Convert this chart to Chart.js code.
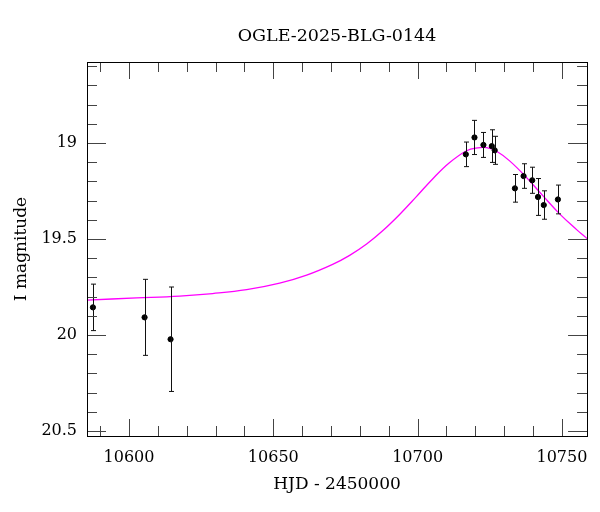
<!DOCTYPE html>
<html>
<head>
<meta charset="utf-8">
<script src="https://cdn.jsdelivr.net/npm/chart.js@4.4.1/dist/chart.umd.min.js"></script>
<style>
  html, body { margin: 0; padding: 0; background: #fff; }
  #wrap { width: 600px; height: 512px; }
</style>
</head>
<body>
<div id="wrap"><canvas id="lc"></canvas></div>
<script>
// OGLE photometry (HJD - 2450000, I mag, error)
const obsHJD = [10587.5, 10605.4, 10614.4, 10716.7, 10719.7, 10722.8, 10725.7, 10726.7,
                10733.7, 10736.7, 10739.7, 10741.7, 10743.7, 10748.6];
const obsMag = [19.856, 19.908, 20.022, 19.059, 18.971, 19.010, 19.016, 19.038,
                19.236, 19.172, 19.194, 19.281, 19.323, 19.294];
const obsErr = [0.121, 0.198, 0.272, 0.064, 0.089, 0.065, 0.085, 0.073,
                0.072, 0.064, 0.068, 0.096, 0.074, 0.075];

// model light curve
const modelHJD = [10585.35, 10602.67, 10617.56, 10628.99, 10640.77, 10652.20, 10661.55, 10670.56,
                  10676.45, 10682.33, 10687.88, 10693.76, 10699.65, 10705.19, 10710.90, 10716.97,
                  10720.78, 10723.90, 10727.36, 10731.87, 10737.75, 10743.30, 10749.19,
                  10755.08, 10758.89];
const modelMag = [19.818, 19.807, 19.797, 19.784, 19.764, 19.730, 19.688, 19.632,
                  19.585, 19.526, 19.457, 19.372, 19.278, 19.187, 19.104, 19.040,
                  19.025, 19.024, 19.043, 19.093, 19.180, 19.273, 19.369,
                  19.451, 19.500];

const xTicks = [10600, 10650, 10700, 10750];
const yTicks = [19, 19.5, 20, 20.5];
const xRange = [10585.45, 10758.7];
const yRange = [18.578, 20.526];

const FONT = '"DejaVu Serif", "Liberation Serif", serif';

// error bars drawn through the scales
const errorBars = {
    id: 'errorBars',
    afterDatasetsDraw(chart) {
        const ctx = chart.ctx;
        const x = chart.scales.x, y = chart.scales.y;
        ctx.save();
        ctx.strokeStyle = '#111';
        ctx.lineWidth = 1;
        obsHJD.forEach((t, i) => {
            const px = Math.round(x.getPixelForValue(t)) + 0.5;
            const top = y.getPixelForValue(obsMag[i] - obsErr[i]);
            const bot = y.getPixelForValue(obsMag[i] + obsErr[i]);
            ctx.beginPath();
            ctx.moveTo(px, top); ctx.lineTo(px, bot);
            ctx.moveTo(px - 2.5, top); ctx.lineTo(px + 2.5, top);
            ctx.moveTo(px - 2.5, bot); ctx.lineTo(px + 2.5, bot);
            ctx.stroke();
        });
        ctx.restore();
    }
};

// frame plus inward ticks on all four sides
const frameTicks = {
    id: 'frameTicks',
    afterDraw(chart) {
        const ctx = chart.ctx;
        const a = chart.chartArea;
        const x = chart.scales.x, y = chart.scales.y;
        ctx.save();
        ctx.strokeStyle = '#444';
        ctx.lineWidth = 1;
        ctx.beginPath();
        for (let v = 10590; v <= 10758; v += 10) {
            const px = Math.round(x.getPixelForValue(v)) + 0.5;
            const len = (v % 50 === 0) ? 17 : 10;
            ctx.moveTo(px, a.bottom); ctx.lineTo(px, a.bottom - len);
            ctx.moveTo(px, a.top); ctx.lineTo(px, a.top + len);
        }
        for (let k = 186; k <= 205; k++) {
            const v = k / 10;
            const py = Math.round(y.getPixelForValue(v)) + 0.5;
            const len = (k % 5 === 0) ? 19 : 10;
            ctx.moveTo(a.left, py); ctx.lineTo(a.left + len, py);
            ctx.moveTo(a.right, py); ctx.lineTo(a.right - len, py);
        }
        ctx.stroke();
        ctx.strokeStyle = '#000';
        ctx.strokeRect(Math.round(a.left) + 0.5, Math.round(a.top) + 0.5,
                       Math.round(a.right - a.left), Math.round(a.bottom - a.top));
        // title centred over the plot area
        ctx.fillStyle = '#000';
        ctx.font = '17.5px ' + FONT;
        ctx.textAlign = 'center';
        ctx.textBaseline = 'middle';
        ctx.fillText('OGLE-2025-BLG-0144', (a.left + a.right) / 2, 36);
        ctx.restore();
    }
};

new Chart(document.getElementById('lc'), {
    type: 'scatter',
    data: {
        datasets: [
            {
                label: 'model',
                data: modelHJD.map((t, i) => ({ x: t, y: modelMag[i] })),
                showLine: true,
                borderColor: '#ff00ff',
                borderWidth: 1.3,
                pointRadius: 0,
                tension: 0.4,
                order: 2
            },
            {
                label: 'OGLE',
                data: obsHJD.map((t, i) => ({ x: t, y: obsMag[i] })),
                showLine: false,
                backgroundColor: '#000',
                borderColor: '#000',
                pointRadius: 2.6,
                order: 1
            }
        ]
    },
    options: {
        responsive: true,
        maintainAspectRatio: false,
        animation: false,
        layout: { padding: { left: 0, right: 12, top: 62, bottom: 0 } },
        plugins: {
            legend: { display: false },
            tooltip: { enabled: false },
            title: { display: false }
        },
        scales: {
            x: {
                type: 'linear',
                min: xRange[0],
                max: xRange[1],
                afterBuildTicks: s => { s.ticks = xTicks.map(v => ({ value: v })); },
                afterFit: s => { s.height = 76; },
                grid: { display: false, drawTicks: false },
                border: { display: false },
                ticks: {
                    color: '#000',
                    padding: 12,
                    font: { family: FONT, size: 16 },
                    callback: v => String(v)
                },
                title: {
                    display: true,
                    text: 'HJD - 2450000',
                    color: '#000',
                    font: { family: FONT, size: 17 },
                    padding: { top: 0, bottom: 17 }
                }
            },
            y: {
                type: 'linear',
                reverse: true,
                min: yRange[0],
                max: yRange[1],
                afterBuildTicks: s => { s.ticks = yTicks.map(v => ({ value: v })); },
                afterFit: s => { s.width = 87; },
                grid: { display: false, drawTicks: false },
                border: { display: false },
                ticks: {
                    color: '#000',
                    padding: 10,
                    font: { family: FONT, size: 16 },
                    callback: v => String(v)
                },
                title: {
                    display: true,
                    text: 'I magnitude',
                    color: '#000',
                    font: { family: FONT, size: 17 },
                    padding: { top: 11, bottom: 0 }
                }
            }
        }
    },
    plugins: [errorBars, frameTicks]
});
</script>
</body>
</html>
